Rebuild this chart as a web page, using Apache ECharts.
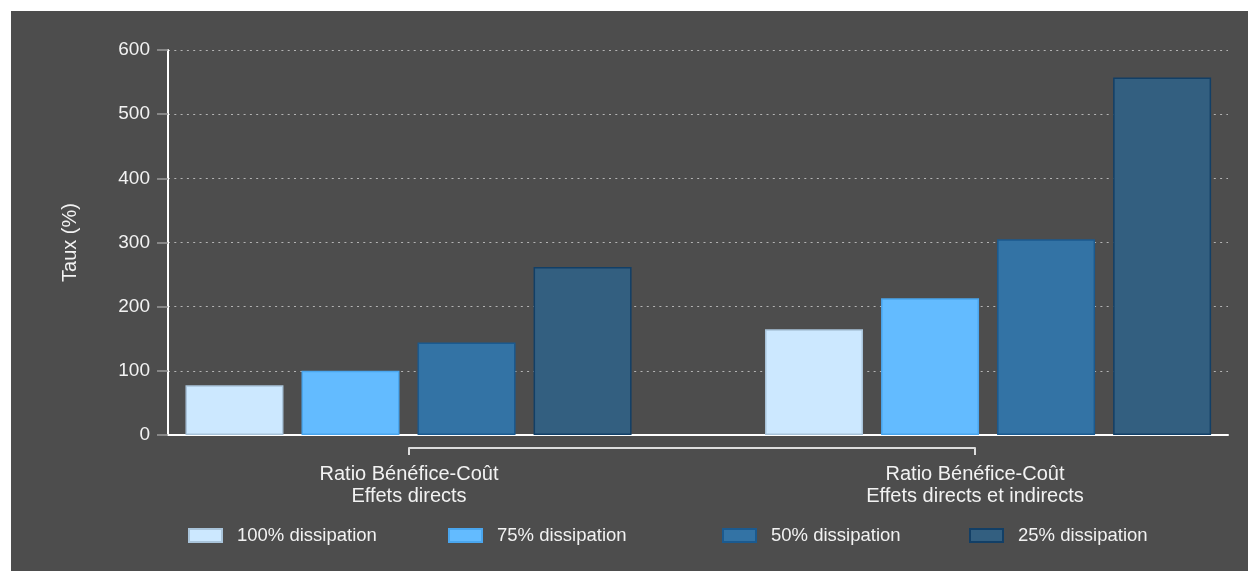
<!DOCTYPE html>
<html>
<head>
    <meta charset="utf-8">
    <title>Ratio Bénéfice-Coût</title>
    <script src="https://cdn.jsdelivr.net/npm/echarts@6/dist/echarts.min.js"></script>
    <style>
        body { margin: 0; background: #ffffff; }
        #chart1 { position: absolute; left: 11px; top: 11px; width: 1237px; height: 560px; background: #4d4d4d; }
    </style>
</head>
<body>
<div id="chart1"></div>
<script type="text/javascript">
    // données
    var categories = ['Ratio Bénéfice-Coût\nEffets directs', 'Ratio Bénéfice-Coût\nEffets directs et indirects'];
    var groupPos = [0, 1];
    var seriesNames = ['100% dissipation', '75% dissipation', '50% dissipation', '25% dissipation'];
    var dissip100 = [77.5, 165];
    var dissip75 = [100, 213];
    var dissip50 = [144, 305];
    var dissip25 = [262, 557];

    var fills = ['#cce8ff', '#63bbff', '#3373a5', '#335f80'];
    var borders = ['#a9c4da', '#4aa6ee', '#1b5a8f', '#123f66'];
    var legendLeft = [172, 432, 706, 953];

    var allValues = [dissip100, dissip75, dissip50, dissip25];
    var textCol = '#f2f2f2';
    var font = 'Liberation Sans, Arial, sans-serif';

    var series = allValues.map(function (vals, i) {
        return {
            name: seriesNames[i],
            type: 'bar',
            xAxisIndex: 0,
            yAxisIndex: 0,
            barWidth: 98,
            barGap: '18.4%',
            itemStyle: { color: fills[i], borderColor: borders[i], borderWidth: 1.5 },
            data: vals.map(function (v, k) { return [groupPos[k], v]; })
        };
    });

    var legends = seriesNames.map(function (n, i) {
        return {
            data: [n],
            left: legendLeft[i],
            top: 510,
            icon: 'rect',
            itemWidth: 33,
            itemHeight: 13,
            selectedMode: false,
            textStyle: { color: textCol, fontSize: 18.5, fontFamily: font, padding: [0, 0, 0, 10] }
        };
    });

    var myChart1 = echarts.init(document.getElementById('chart1'));
    myChart1.setOption({
        backgroundColor: '#4d4d4d',
        animation: false,
        legend: legends,
        grid: [
            { left: 157, right: 20, top: 39, bottom: 136 },
            { left: 398, right: 273, top: 39, bottom: 123 }
        ],
        xAxis: [
            {
                type: 'value',
                gridIndex: 0,
                min: -0.415,
                max: 1.414,
                axisLine: { show: true, onZero: false, lineStyle: { color: '#ffffff', width: 2 } },
                axisTick: { show: false },
                axisLabel: { show: false },
                splitLine: { show: false }
            },
            {
                type: 'category',
                gridIndex: 1,
                data: categories,
                boundaryGap: false,
                axisLine: { show: true, onZero: false, lineStyle: { color: '#dddddd', width: 2 } },
                axisTick: { show: true, length: 7, lineStyle: { color: '#dddddd', width: 2 } },
                axisLabel: { color: textCol, fontSize: 20, fontFamily: font, lineHeight: 22, margin: 15, interval: 0 },
                splitLine: { show: false }
            }
        ],
        yAxis: [
            {
                type: 'value',
                gridIndex: 0,
                min: 0,
                max: 600,
                interval: 100,
                name: 'Taux (%)',
                nameLocation: 'middle',
                nameGap: 88,
                nameTextStyle: { color: textCol, fontSize: 20, fontFamily: font },
                axisLine: { show: true, onZero: false, lineStyle: { color: '#ffffff', width: 2 } },
                axisTick: { show: true, length: 11, lineStyle: { color: '#9a9a9a', width: 1.5 } },
                axisLabel: { color: textCol, fontSize: 19, fontFamily: font, margin: 18 },
                splitLine: { show: true, lineStyle: { color: '#b4b4b4', type: [2, 4.3], width: 1 } }
            },
            {
                type: 'value',
                gridIndex: 1,
                show: false
            }
        ],
        series: series
    });
</script>
</body>
</html>
